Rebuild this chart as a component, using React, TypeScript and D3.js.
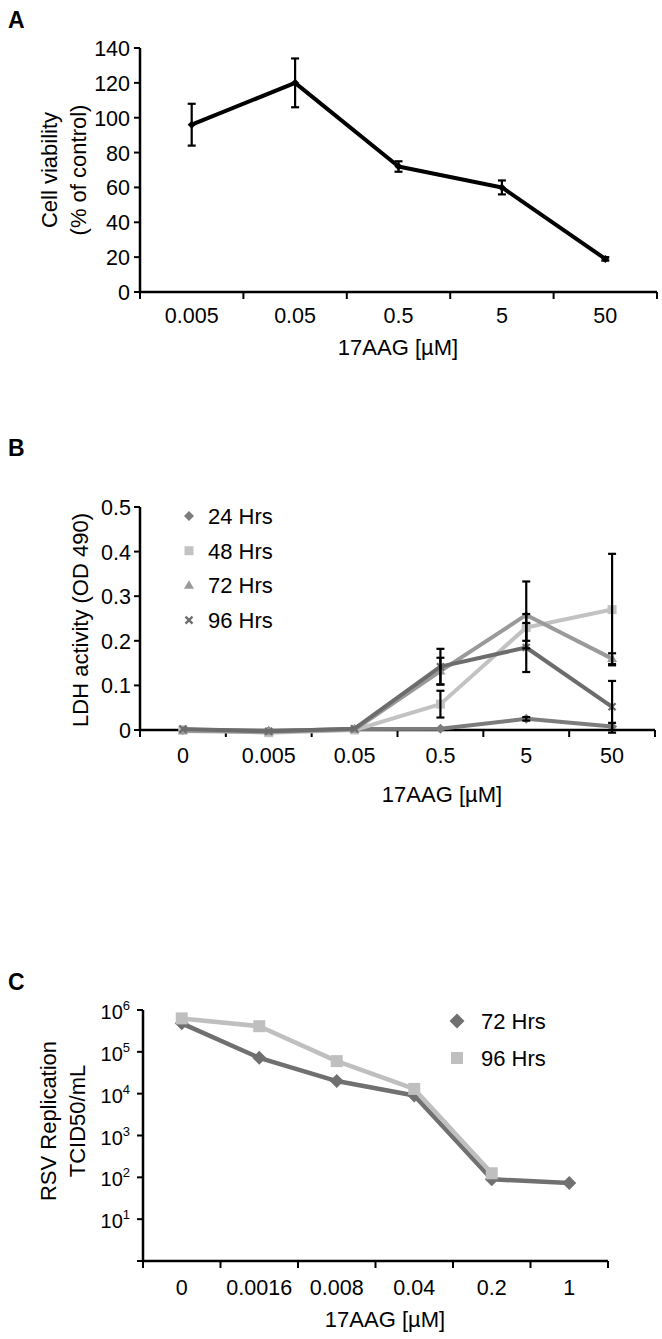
import React from "react";
import * as d3 from "d3";

// ---------- Panel A data ----------
const aCats = ["0.005", "0.05", "0.5", "5", "50"];
const aVals = [96, 120, 72, 60, 19];
const aErr = [12, 14, 3, 4, 1];
const aYTicks = [0, 20, 40, 60, 80, 100, 120, 140];

// ---------- Panel B data ----------
const bCats = ["0", "0.005", "0.05", "0.5", "5", "50"];
const b24 = [0, -0.002, 0.002, 0.003, 0.025, 0.008];
const b48 = [0, -0.006, 0, 0.058, 0.23, 0.27];
const b72 = [-0.002, -0.004, 0.001, 0.132, 0.258, 0.16];
const b96 = [0.002, -0.003, 0.003, 0.142, 0.185, 0.052];
const b24Err = [0, 0, 0, 0, 0.004, 0.008];
const b48Err = [0, 0, 0, 0.03, 0.03, 0.125];
const b72Err = [0, 0, 0, 0.03, 0.075, 0.012];
const b96Err = [0, 0, 0, 0.04, 0.055, 0.058];
const bYTicks = [0, 0.1, 0.2, 0.3, 0.4, 0.5];
const bSeriesNames = ["24 Hrs", "48 Hrs", "72 Hrs", "96 Hrs"];

// ---------- Panel C data ----------
const cCats = ["0", "0.0016", "0.008", "0.04", "0.2", "1"];
const c72 = [4.8e5, 7.2e4, 2.0e4, 9.0e3, 90, 73];
const c96 = [6.3e5, 4.1e5, 6.0e4, 1.3e4, 125, null];
const cExponents = [1, 2, 3, 4, 5, 6];
const cSeriesNames = ["72 Hrs", "96 Hrs"];

const FONT = "'Liberation Sans', Arial, Helvetica, sans-serif";

function diamond(r: number) {
  return `M0,${-r}L${r},0L0,${r}L${-r},0Z`;
}
function square(s: number) {
  const h = s / 2;
  return `M${-h},${-h}H${h}V${h}H${-h}Z`;
}
function triangle(s: number) {
  const h = (s * Math.sqrt(3)) / 2;
  return `M0,${-h * 0.6}L${s / 2},${h * 0.4}L${-s / 2},${h * 0.4}Z`;
}
function cross(s: number) {
  const h = s / 2;
  return `M${-h},${-h}L${h},${h}M${-h},${h}L${h},${-h}`;
}

function Marker({ kind, x, y, color, size }: any) {
  if (kind === "diamond") return <path d={diamond(size)} transform={`translate(${x},${y})`} fill={color} />;
  if (kind === "square") return <path d={square(size)} transform={`translate(${x},${y})`} fill={color} />;
  if (kind === "triangle") return <path d={triangle(size)} transform={`translate(${x},${y})`} fill={color} />;
  return <path d={cross(size)} transform={`translate(${x},${y})`} stroke={color} strokeWidth={2.2} fill="none" />;
}

function PanelA() {
  const x = d3.scaleBand().domain(aCats).range([140, 657]);
  const y = d3.scaleLinear().domain([0, 140]).range([292, 48]);
  const line = d3
    .line<number>()
    .x((_, i) => (x(aCats[i]) as number) + x.bandwidth() / 2)
    .y((d) => y(d));
  const edges = aCats.map((c) => x(c) as number).concat([x.range()[1]]);
  return (
    <g>
      <text x={8} y={28} fontSize={23} fontWeight="bold" fontFamily={FONT}>A</text>
      <line x1={140} x2={140} y1={y(140)} y2={y(0)} stroke="#000" strokeWidth={2.5} />
      <line x1={139} x2={657} y1={y(0)} y2={y(0)} stroke="#000" strokeWidth={2.5} />
      {aYTicks.map((t) => (
        <g key={t}>
          <line x1={134} x2={140} y1={y(t)} y2={y(t)} stroke="#000" strokeWidth={2} />
          <text x={130} y={y(t) + 8} textAnchor="end" fontSize={21.5} fontFamily={FONT}>{t}</text>
        </g>
      ))}
      {edges.map((e, i) => (
        <line key={i} x1={e} x2={e} y1={y(0)} y2={y(0) + 7} stroke="#000" strokeWidth={2} />
      ))}
      {aCats.map((c) => (
        <text key={c} x={(x(c) as number) + x.bandwidth() / 2} y={323} textAnchor="middle" fontSize={21.5} fontFamily={FONT}>{c}</text>
      ))}
      <text x={398} y={355} textAnchor="middle" fontSize={22} fontFamily={FONT}>17AAG [µM]</text>
      <text transform="translate(57,170) rotate(-90)" textAnchor="middle" fontSize={22} fontFamily={FONT}>Cell viability</text>
      <text transform="translate(86,170) rotate(-90)" textAnchor="middle" fontSize={22} fontFamily={FONT}>(% of control)</text>
      <path d={line(aVals) || ""} fill="none" stroke="#000" strokeWidth={4} strokeLinejoin="round" />
      {aVals.map((v, i) => {
        const cx = (x(aCats[i]) as number) + x.bandwidth() / 2;
        const e = aErr[i];
        return (
          <g key={i}>
            <line x1={cx} x2={cx} y1={y(v - e)} y2={y(v + e)} stroke="#000" strokeWidth={2.2} />
            <line x1={cx - 4} x2={cx + 4} y1={y(v - e)} y2={y(v - e)} stroke="#000" strokeWidth={2.2} />
            <line x1={cx - 4} x2={cx + 4} y1={y(v + e)} y2={y(v + e)} stroke="#000" strokeWidth={2.2} />
            <path d={diamond(4)} transform={`translate(${cx},${y(v)})`} fill="#000" />
          </g>
        );
      })}
    </g>
  );
}

function PanelB() {
  const x = d3.scaleBand().domain(bCats).range([140, 655]);
  const y = d3.scaleLinear().domain([0, 0.5]).range([730, 507]);
  const cx = (i: number) => (x(bCats[i]) as number) + x.bandwidth() / 2;
  const line = d3.line<number>().x((_, i) => cx(i)).y((d) => y(d));
  const edges = bCats.map((c) => x(c) as number).concat([x.range()[1]]);
  const series = [
    { name: bSeriesNames[0], vals: b24, err: b24Err, color: "#7c7c7c", kind: "diamond", size: 5 },
    { name: bSeriesNames[1], vals: b48, err: b48Err, color: "#c2c2c2", kind: "square", size: 9 },
    { name: bSeriesNames[2], vals: b72, err: b72Err, color: "#9a9a9a", kind: "triangle", size: 10 },
    { name: bSeriesNames[3], vals: b96, err: b96Err, color: "#6c6c6c", kind: "cross", size: 7 },
  ];
  return (
    <g>
      <text x={8} y={456} fontSize={23} fontWeight="bold" fontFamily={FONT}>B</text>
      <line x1={140} x2={140} y1={y(0.5)} y2={y(0)} stroke="#000" strokeWidth={2.5} />
      <line x1={139} x2={655} y1={y(0)} y2={y(0)} stroke="#000" strokeWidth={2.5} />
      {bYTicks.map((t) => (
        <g key={t}>
          <line x1={134} x2={140} y1={y(t)} y2={y(t)} stroke="#000" strokeWidth={2} />
          <text x={131} y={y(t) + 8} textAnchor="end" fontSize={21.5} fontFamily={FONT}>{t}</text>
        </g>
      ))}
      {edges.map((e, i) => (
        <line key={i} x1={e} x2={e} y1={y(0)} y2={y(0) + 7} stroke="#000" strokeWidth={2} />
      ))}
      {bCats.map((c, i) => (
        <text key={c} x={cx(i)} y={763} textAnchor="middle" fontSize={21.5} fontFamily={FONT}>{c}</text>
      ))}
      <text x={442} y={802} textAnchor="middle" fontSize={22} fontFamily={FONT}>17AAG [µM]</text>
      <text transform="translate(88,620) rotate(-90)" textAnchor="middle" fontSize={22} fontFamily={FONT}>LDH activity (OD 490)</text>
      {series.map((s) => (
        <g key={s.name}>
          <path d={line(s.vals) || ""} fill="none" stroke={s.color} strokeWidth={4} strokeLinejoin="round" />
          {s.vals.map((v, i) => (
            <Marker key={i} kind={s.kind} x={cx(i)} y={y(v)} color={s.color} size={s.size} />
          ))}
        </g>
      ))}
      {series.map((s) =>
        s.vals.map((v, i) => {
          const e = s.err[i];
          if (!e) return null;
          const px = cx(i);
          return (
            <g key={s.name + i}>
              <line x1={px} x2={px} y1={y(v - e)} y2={y(v + e)} stroke="#000" strokeWidth={2.2} />
              <line x1={px - 4} x2={px + 4} y1={y(v - e)} y2={y(v - e)} stroke="#000" strokeWidth={2.2} />
              <line x1={px - 4} x2={px + 4} y1={y(v + e)} y2={y(v + e)} stroke="#000" strokeWidth={2.2} />
            </g>
          );
        })
      )}
      {series.map((s, i) => (
        <g key={"leg" + s.name}>
          <Marker kind={s.kind} x={189} y={516 + i * 34.7} color={s.color} size={s.kind === "diamond" ? 5 : s.size} />
          <text x={208} y={516 + i * 34.7 + 8} fontSize={22} fontFamily={FONT}>{s.name}</text>
        </g>
      ))}
    </g>
  );
}

function PanelC() {
  const x = d3.scaleBand().domain(cCats).range([143, 608]);
  const y = d3.scaleLog().domain([1, 1e6]).range([1261, 1010]);
  const cx = (i: number) => (x(cCats[i]) as number) + x.bandwidth() / 2;
  const line = d3
    .line<number | null>()
    .defined((d) => d != null)
    .x((_, i) => cx(i))
    .y((d) => y(d as number));
  const edges = cCats.map((c) => x(c) as number).concat([x.range()[1]]);
  const series = [
    { name: cSeriesNames[0], vals: c72, color: "#707070", kind: "diamond", size: 7 },
    { name: cSeriesNames[1], vals: c96, color: "#bfbfbf", kind: "square", size: 12 },
  ];
  return (
    <g>
      <text x={8} y={990} fontSize={23} fontWeight="bold" fontFamily={FONT}>C</text>
      <line x1={143} x2={143} y1={y(1e6)} y2={y(1)} stroke="#000" strokeWidth={2.5} />
      <line x1={142} x2={608} y1={y(1)} y2={y(1)} stroke="#000" strokeWidth={2.5} />
      {[0].concat(cExponents).map((n) => (
        <line key={n} x1={137} x2={143} y1={y(Math.pow(10, n))} y2={y(Math.pow(10, n))} stroke="#000" strokeWidth={2} />
      ))}
      {cExponents.map((n) => (
        <text key={n} x={130} y={y(Math.pow(10, n)) + 9} textAnchor="end" fontSize={20} fontFamily={FONT}>
          10<tspan fontSize={13} dy={-9}>{n}</tspan>
        </text>
      ))}
      {edges.map((e, i) => (
        <line key={i} x1={e} x2={e} y1={y(1)} y2={y(1) + 7} stroke="#000" strokeWidth={2} />
      ))}
      {cCats.map((c, i) => (
        <text key={c} x={cx(i)} y={1295} textAnchor="middle" fontSize={21.5} fontFamily={FONT}>{c}</text>
      ))}
      <text x={385} y={1327} textAnchor="middle" fontSize={22} fontFamily={FONT}>17AAG [µM]</text>
      <text transform="translate(56,1121) rotate(-90)" textAnchor="middle" fontSize={22} fontFamily={FONT}>RSV Replication</text>
      <text transform="translate(85,1121) rotate(-90)" textAnchor="middle" fontSize={22} fontFamily={FONT}>TCID50/mL</text>
      {series.map((s) => (
        <g key={s.name}>
          <path d={line(s.vals) || ""} fill="none" stroke={s.color} strokeWidth={4.5} strokeLinejoin="round" />
          {s.vals.map((v, i) =>
            v == null ? null : <Marker key={i} kind={s.kind} x={cx(i)} y={y(v)} color={s.color} size={s.size} />
          )}
        </g>
      ))}
      {series.map((s, i) => (
        <g key={"leg" + s.name}>
          <Marker kind={s.kind} x={457} y={1021 + i * 37} color={s.color} size={s.kind === "diamond" ? 7.5 : 12} />
          <text x={481} y={1021 + i * 37 + 8} fontSize={22} fontFamily={FONT}>{s.name}</text>
        </g>
      ))}
    </g>
  );
}

export default function App() {
  return (
    <svg
      width={662}
      height={1339}
      viewBox="0 0 662 1339"
      style={{ position: "absolute", left: 0, top: 0, background: "#fff" }}
    >
      <rect x={0} y={0} width={662} height={1339} fill="#fff" />
      <PanelA />
      <PanelB />
      <PanelC />
    </svg>
  );
}
